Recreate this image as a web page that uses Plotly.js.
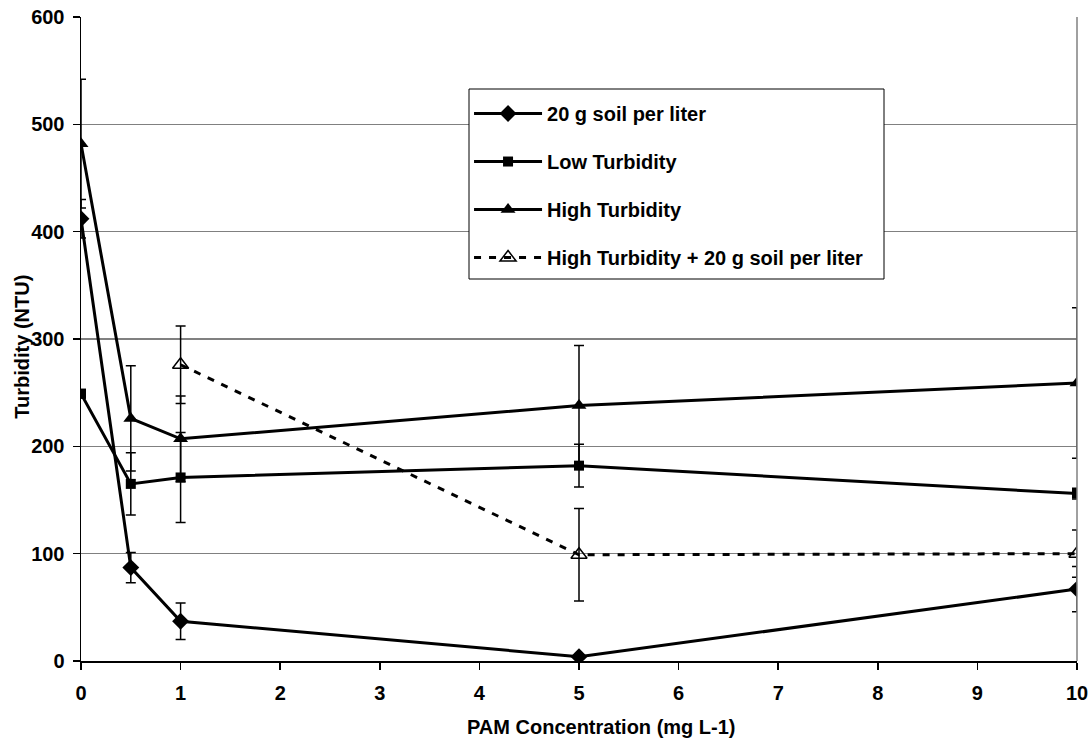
<!DOCTYPE html>
<html>
<head>
<meta charset="utf-8">
<script src="https://cdn.plot.ly/plotly-3.0.1.min.js"></script>
<style>html,body{margin:0;padding:0;background:#fff;}#chart{width:1089px;height:745px;}</style>
</head>
<body>
<div id="chart"></div>
<script>
// PAM concentration (mg L-1)
const pamConc = [0, 0.5, 1, 5, 10];
const pamConcMixed = [1, 5, 10];

// Turbidity (NTU) and error values
const soil20 = [412, 87, 37, 4, 67];
const soil20Err = [18, 14, 17, 2, 21];
const lowTurb = [249, 165, 171, 182, 156];
const lowTurbErr = [4, 29, 42, 20, 5];
const highTurb = [482, 226, 207, 238, 259];
const highTurbErr = [60, 49, 40, 56, 70];
const highSoil = [276, 99, 100];
const highSoilErr = [36, 43, 22];

const seriesNames = ["20 g soil per liter", "Low Turbidity", "High Turbidity", "High Turbidity + 20 g soil per liter"];
const xTicks = [0, 1, 2, 3, 4, 5, 6, 7, 8, 9, 10];
const yTicks = [0, 100, 200, 300, 400, 500, 600];

const FONT = "Liberation Sans, Arial, sans-serif";

function errBar(arr) {
  return {type: "data", array: arr, visible: true, color: "#000", thickness: 1.5, width: 5};
}

const traces = [
  {x: pamConc, y: soil20, name: seriesNames[0], legendgroup: "a", type: "scatter", mode: "lines+markers",
   line: {color: "#000", width: 3}, marker: {symbol: "diamond", size: 13, color: "#000"}, error_y: errBar(soil20Err)},
  {x: pamConc, y: lowTurb, name: seriesNames[1], legendgroup: "b", type: "scatter", mode: "lines+markers",
   line: {color: "#000", width: 3}, marker: {symbol: "square", size: 10, color: "#000"}, error_y: errBar(lowTurbErr)},
  {x: pamConc, y: highTurb, name: seriesNames[2], legendgroup: "c", type: "scatter", mode: "lines+markers",
   line: {color: "#000", width: 3}, marker: {symbol: "triangle-up", size: 13, color: "#000"}, error_y: errBar(highTurbErr)},
  {x: pamConcMixed, y: highSoil, name: seriesNames[3], legendgroup: "d", type: "scatter", mode: "lines+markers",
   line: {color: "#000", width: 3, dash: "7px,8px"},
   marker: {symbol: "triangle-up-open", size: 14, color: "#000", line: {width: 1.5, color: "#000"}}, error_y: errBar(highSoilErr)}
];

const layout = {
  width: 1089, height: 745,
  margin: {l: 81, r: 12, t: 17, b: 84},
  paper_bgcolor: "#fff", plot_bgcolor: "#fff",
  font: {family: FONT, color: "#000", size: 20, weight: "bold"},
  showlegend: true,
  legend: {
    x: 0.3896, y: 0.8804, xanchor: "left", yanchor: "top",
    bgcolor: "rgba(0,0,0,0)", borderwidth: 0,
    font: {family: FONT, size: 20, color: "#000", weight: "bold"},
    traceorder: "grouped", tracegroupgap: 19, itemwidth: 68
  },
  xaxis: {
    range: [0, 10], tickvals: xTicks, ticktext: xTicks.map(String),
    showgrid: false, zeroline: false, showline: true, linecolor: "#000", linewidth: 1.5,
    ticks: "outside", ticklen: 7, tickwidth: 1.5, tickcolor: "#000",
    tickfont: {family: FONT, size: 20, weight: "bold", color: "#000"},
    ticklabelstandoff: 6
  },
  yaxis: {
    range: [0, 600], tickvals: yTicks,
    showgrid: true, gridcolor: "#808080", gridwidth: 1.2,
    zeroline: false, showline: true, linecolor: "#000", linewidth: 1.5,
    ticks: "outside", ticklen: 7, tickwidth: 1.5, tickcolor: "#000",
    tickfont: {family: FONT, size: 20, weight: "bold", color: "#000"},
    ticklabelstandoff: 4
  },
  shapes: [
    {type: "line", xref: "paper", yref: "paper", x0: 1, x1: 1, y0: 0, y1: 1, line: {color: "#808080", width: 1.5}},
    {type: "rect", xref: "paper", yref: "paper", layer: "above",
     x0: (469 - 81) / 996, x1: (884 - 81) / 996, y0: (661 - 279) / 644, y1: (661 - 89) / 644,
     line: {color: "#000", width: 1}, fillcolor: "#fff"}
  ],
  annotations: [
    {text: "PAM Concentration (mg L-1)", xref: "paper", yref: "paper", x: 0.523, y: -0.103,
     xanchor: "center", yanchor: "middle", showarrow: false,
     font: {family: FONT, size: 20, weight: "bold", color: "#000"}},
    {text: "Turbidity (NTU)", xref: "paper", yref: "paper", x: -0.0595, y: 0.4876, textangle: -90,
     xanchor: "center", yanchor: "middle", showarrow: false,
     font: {family: FONT, size: 20, weight: "bold", color: "#000"}}
  ]
};

Plotly.newPlot("chart", traces, layout, {staticPlot: true, displayModeBar: false});
</script>
</body>
</html>
